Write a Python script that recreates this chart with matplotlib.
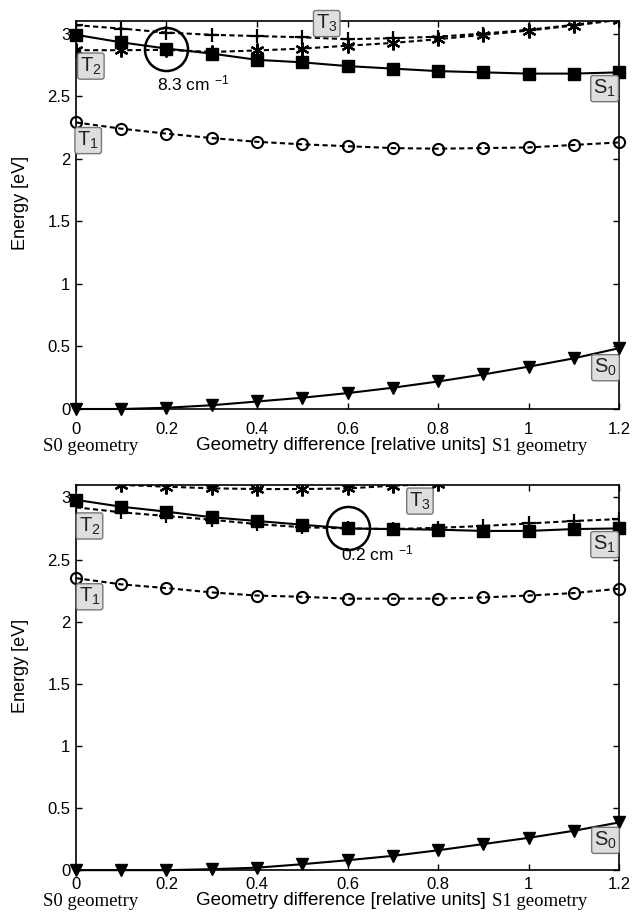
import matplotlib
matplotlib.use("Agg")
import matplotlib.pyplot as plt
from matplotlib.ticker import FormatStrFormatter
import matplotlib.transforms as mtransforms

plt.rcParams['font.family'] = ['Liberation Sans', 'DejaVu Sans']
plt.rcParams['mathtext.fontset'] = 'custom'
plt.rcParams['mathtext.rm'] = 'Liberation Sans'
plt.rcParams['mathtext.it'] = 'Liberation Sans'

# geometry coordinate (relative units)
x = [0, 0.1, 0.2, 0.3, 0.4, 0.5, 0.6, 0.7, 0.8, 0.9, 1.0, 1.1, 1.2]

# upper panel energies [eV]
s0_top = [0, 0, 0.01, 0.03, 0.06, 0.09, 0.127, 0.17, 0.22, 0.276, 0.338, 0.405, 0.486]
t1_top = [2.29, 2.24, 2.20, 2.165, 2.135, 2.115, 2.10, 2.085, 2.08, 2.085, 2.09, 2.11, 2.13]
s1_top = [2.99, 2.93, 2.88, 2.84, 2.79, 2.77, 2.74, 2.72, 2.70, 2.69, 2.68, 2.68, 2.69]
t2_top = [2.867, 2.867, 2.87, 2.853, 2.865, 2.88, 2.903, 2.925, 2.955, 2.99, 3.024, 3.064, 3.11]
t3_top = [3.067, 3.04, 3.008, 2.99, 2.98, 2.97, 2.955, 2.963, 2.975, 3.0, 3.03, 3.07, 3.115]

# lower panel energies [eV]
s0_bot = [0, 0, 0, 0.008, 0.02, 0.048, 0.08, 0.115, 0.16, 0.21, 0.26, 0.317, 0.384]
t1_bot = [2.35, 2.30, 2.27, 2.235, 2.21, 2.20, 2.185, 2.185, 2.185, 2.195, 2.21, 2.23, 2.265]
s1_bot = [2.98, 2.925, 2.885, 2.84, 2.81, 2.78, 2.75, 2.745, 2.74, 2.73, 2.73, 2.745, 2.75]
t2_bot = [2.92, 2.88, 2.85, 2.82, 2.785, 2.76, 2.75, 2.745, 2.755, 2.77, 2.79, 2.81, 2.825]
x_t3_bot = [0.1, 0.2, 0.3, 0.4, 0.5, 0.6, 0.7, 0.8]
t3_bot = [3.10, 3.086, 3.073, 3.067, 3.067, 3.072, 3.094, 3.108]

xticks = [0, 0.2, 0.4, 0.6, 0.8, 1.0, 1.2]
yticks = [0, 0.5, 1, 1.5, 2, 2.5, 3]

dash = (0, (2.5, 1.6))
star = (6, 2, 0)


def box_label(ax, x0, y0, name, sub):
    ax.text(x0, y0, name + r'$_{\mathrm{' + sub + '}}$', fontsize=14.5,
            ha='center', va='center', color='#222222',
            bbox=dict(boxstyle='round,pad=0.12', fc='#dedede', ec='#777777', lw=1))


def panel(ax, s0, t1, s1, dashed, circ, circ_txt, labels, xpad, xlab_y):
    ax.plot(x, s0, '-', color='k', lw=1.5, marker='v', ms=8, clip_on=False, zorder=3)
    ax.plot(x, t1, linestyle=dash, color='k', lw=1.5, marker='o', ms=8,
            mfc='none', mew=1.5, clip_on=False, zorder=3)
    ax.plot(x, s1, '-', color='k', lw=1.5, marker='s', ms=8, clip_on=False, zorder=3)
    for xs, ys, mk in dashed:
        ax.plot(xs, ys, linestyle=dash, color='k', lw=1.5, marker=mk, ms=10,
                mew=1.6, zorder=3)
    # crossing marker
    ax.plot([circ[0]], [circ[1]], 'o', ms=31, mfc='none', mec='k', mew=1.8, zorder=4)
    ax.text(circ_txt[0], circ_txt[1], circ_txt[2], fontsize=12.5, ha='center', va='center')
    for lx, ly, name, sub in labels:
        box_label(ax, lx, ly, name, sub)

    ax.set_xlim(0, 1.2)
    ax.set_ylim(0, 3.1)
    ax.set_xticks(xticks)
    ax.set_yticks(yticks)
    ax.xaxis.set_major_formatter(FormatStrFormatter('%g'))
    ax.yaxis.set_major_formatter(FormatStrFormatter('%g'))
    ax.tick_params(direction='in', length=4, width=1, top=True, right=True,
                   labelsize=12)
    ax.tick_params(axis='x', pad=xpad)
    ax.tick_params(axis='y', pad=4)
    for sp in ax.spines.values():
        sp.set_linewidth(1.2)
    ax.set_ylabel('Energy [eV]', fontsize=13)
    ax.yaxis.set_label_coords(-0.103, 0.53)
    ax.yaxis.label.set_va('center')
    ax.set_xlabel('Geometry difference [relative units]', fontsize=13.5)
    ax.xaxis.set_label_coords(0.488, xlab_y)
    ax.xaxis.label.set_va('center')
    tr = mtransforms.blended_transform_factory(ax.transData, ax.transAxes)
    ax.text(0.033, xlab_y - 0.002, 'S0 geometry', transform=tr, fontsize=13.5,
            family='Liberation Serif', ha='center', va='center')
    ax.text(1.025, xlab_y - 0.002, 'S1 geometry', transform=tr, fontsize=13.5,
            family='Liberation Serif', ha='center', va='center')


fig = plt.figure(figsize=(6.33, 9.15), dpi=100)
ax1 = fig.add_axes([0.120, 0.553, 0.858, 0.424])
ax2 = fig.add_axes([0.120, 0.049, 0.858, 0.421])

panel(ax1, s0_top, t1_top, s1_top,
      [(x, t2_top, star), (x, t3_top, '+')],
      (0.2, 2.88), (0.26, 2.60, r'8.3 cm $^{-1}$'),
      [(0.554, 3.08, 'T', '3'), (0.033, 2.74, 'T', '2'), (0.027, 2.145, 'T', '1'),
       (1.168, 2.56, 'S', '1'), (1.17, 0.33, 'S', '0')],
      xpad=9, xlab_y=-0.095)

panel(ax2, s0_bot, t1_bot, s1_bot,
      [(x, t2_bot, '+'), (x_t3_bot, t3_bot, star)],
      (0.6, 2.75), (0.665, 2.55, r'0.2 cm $^{-1}$'),
      [(0.76, 2.97, 'T', '3'), (0.03, 2.77, 'T', '2'), (0.03, 2.20, 'T', '1'),
       (1.168, 2.62, 'S', '1'), (1.17, 0.24, 'S', '0')],
      xpad=5, xlab_y=-0.08)

fig.savefig('out.png', dpi=100)
